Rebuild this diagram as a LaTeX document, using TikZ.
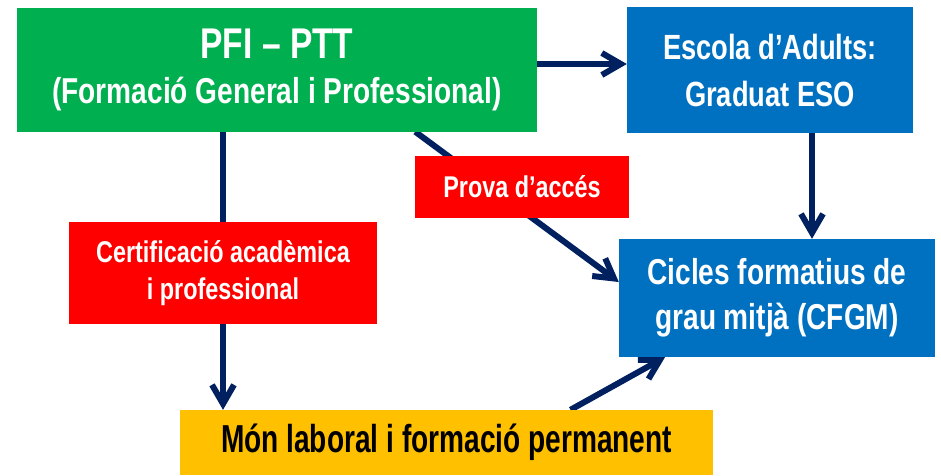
\documentclass[tikz,border=0pt]{standalone}
\usepackage{fontspec}
\setmainfont{Liberation Sans}[FakeStretch=0.78]
\newfontfamily\monfont{Liberation Sans}[FakeStretch=0.72]
\usepackage{xcolor}
\usetikzlibrary{arrows.meta,backgrounds}

\definecolor{pfigreen}{RGB}{0,176,80}
\definecolor{cfblue}{RGB}{0,112,192}
\definecolor{provared}{RGB}{255,0,0}
\definecolor{monyellow}{RGB}{255,192,0}
\definecolor{arrownavy}{RGB}{0,32,96}

\begin{document}
\begin{tikzpicture}[x=1pt,y=-1pt,
  box/.style={inner sep=0pt,align=center,text=white},
  flow/.style={draw=arrownavy,line width=6pt,-{Straight Barb[length=19pt,width=22pt]}}]
\useasboundingbox (0,0) rectangle (941,475);

\node[box,fill=pfigreen,minimum width=520pt,minimum height=124pt,
  font=\bfseries\fontsize{43}{45}\selectfont] (pfi) at (277,69.5)
  {PFI -- PTT\\{\fontsize{36}{45}\selectfont (Formació General i Professional)}};
\node[box,fill=cfblue,minimum width=286pt,minimum height=126pt,
  font=\bfseries\fontsize{35}{47}\selectfont] (esc) at (770,70)
  {Escola d’Adults:\\ Graduat ESO};
\node[box,fill=provared,minimum width=214pt,minimum height=62pt,
  font=\bfseries\fontsize{30}{36}\selectfont] (prova) at (522,187)
  {Prova d’accés};
\node[box,fill=provared,minimum width=308pt,minimum height=102pt,
  font=\bfseries\fontsize{30}{37}\selectfont] (cert) at (223,273)
  {Certificació acadèmica\\ i professional};
\node[box,fill=cfblue,minimum width=316pt,minimum height=118pt,
  font=\bfseries\fontsize{36}{45}\selectfont] (cfgm) at (777,298)
  {Cicles formatius de\\ grau mitjà (CFGM)};
\node[box,fill=monyellow,text=black,minimum width=533pt,minimum height=65pt,
  font=\monfont\bfseries\fontsize{39}{44}\selectfont] (mon) at (446.5,442.5)
  {Món laboral i formació permanent};

\coordinate (esccol) at (812,0);

\begin{scope}[on background layer]
\draw[flow] (pfi.east |- 0,64) -- (esc.west |- 0,64);
\draw[flow] (cert.center |- pfi.south) -- (cert.center |- mon.north);
\draw[flow] ([xshift=-122pt]pfi.south east) -- ([yshift=16pt]cfgm.west);
\draw[flow] (esccol |- esc.south) -- (esccol |- cfgm.north);
\draw[flow] ([xshift=124pt]mon.north) -- ([xshift=-112pt]cfgm.south);
\end{scope}

\end{tikzpicture}
\end{document}
